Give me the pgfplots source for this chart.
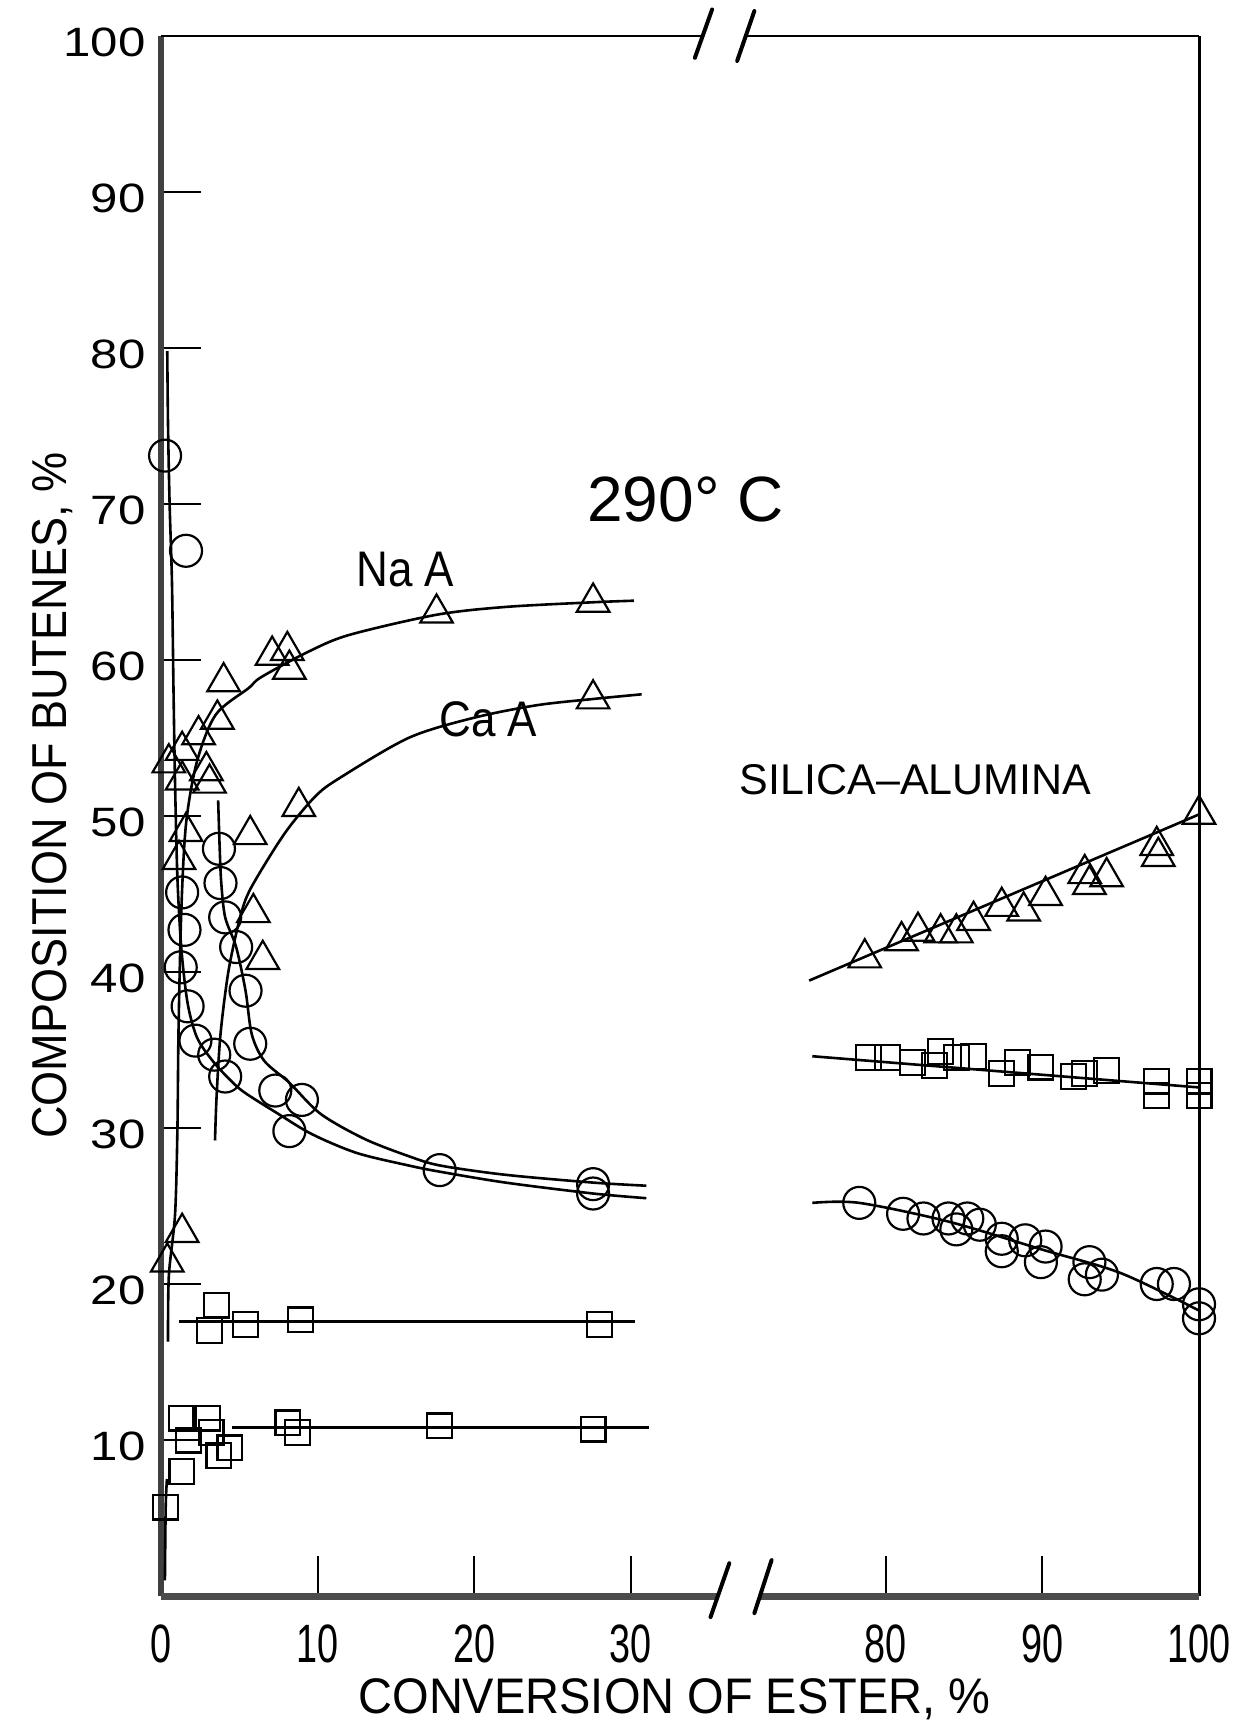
\documentclass[border=0pt]{standalone}
\usepackage{fontspec}
\setmainfont{Liberation Sans}
\usepackage{graphicx}
\usepackage{pgfplots}
\usepackage{pgfplotstable}
\pgfplotsset{compat=1.18}

\newcommand\xl[1]{\scalebox{0.7}[1]{#1}}
\newcommand\yl[1]{\scalebox{1.2}[1]{#1}}

% ---------- left panel (Na A and Ca A), x = conversion % ----------
\pgfplotstableread{
x y
0.26 73.1
1.6 67.0
1.35 45.1
1.5 42.7
1.26 40.3
1.7 37.8
2.2 35.6
3.4 34.7
4.1 33.3
3.7 47.9
3.8 45.7
4.1 43.5
4.8 41.6
5.4 38.8
5.7 35.4
7.3 32.4
9.0 31.8
8.2 29.8
17.8 27.3
27.6 26.4
27.6 25.8
}\lcirc
\pgfplotstableread{
x y
0.4 21.4
1.35 23.3
0.5 53.4
1.35 54.2
2.4 55.2
2.9 52.9
3.1 52.1
1.35 52.3
1.6 49.0
1.15 47.2
3.6 56.2
4.0 58.6
7.1 60.3
8.07 60.6
8.2 59.4
5.7 48.8
5.9 43.8
6.5 40.8
8.8 50.6
17.6 63.0
27.6 63.7
27.6 57.5
}\ltri
\pgfplotstableread{
x y
0.3 5.7
1.34 8.0
1.28 11.4
1.74 10.0
3.0 11.4
3.2 10.5
3.7 9.0
4.4 9.5
8.1 11.1
8.7 10.5
17.8 10.9
27.6 10.7
3.55 18.65
3.1 17.0
5.4 17.4
8.9 17.7
28.0 17.4
}\lsq
% ---------- right panel (silica-alumina), x = conversion % ----------
\pgfplotstableread{
x y
78.65 40.9
81.0 42.0
82.05 42.6
83.5 42.5
84.5 42.5
85.6 43.3
87.4 44.2
88.8 43.9
90.2 44.9
92.7 46.3
93.0 45.6
94.1 46.1
97.3 48.1
97.4 47.4
100.0 50.1
}\rtri
\pgfplotstableread{
x y
78.9 34.5
80.1 34.5
81.7 34.2
83.1 34.0
83.5 34.9
84.5 34.5
85.6 34.6
87.4 33.5
88.4 34.2
89.9 33.9
92.0 33.3
92.7 33.5
94.1 33.7
97.3 33.0
97.3 32.1
100.0 33.0
100.0 32.1
}\rsq
\pgfplotstableread{
x y
78.3 25.2
81.1 24.5
82.4 24.2
84.0 24.2
84.5 23.5
85.2 24.2
86.0 23.8
87.4 22.9
87.4 22.1
88.9 22.8
89.9 21.4
90.2 22.4
93.0 21.4
92.7 20.3
93.8 20.6
97.3 20.0
98.4 20.0
100.0 18.7
100.0 17.8
}\rcirc

\pgfplotsset{
  curve/.style={black, line width=1.3pt, smooth, no markers},
  tri/.style={black, only marks, mark=triangle, mark size=9.4pt, mark options={line width=1.1pt, fill=white, solid}},
  circ/.style={black, only marks, mark=o, mark size=8pt, mark options={line width=1.1pt, fill=white, solid}},
  sq/.style={black, only marks, mark=square, mark size=6.2pt, mark options={line width=1.1pt, fill=white, solid}},
}

\begin{document}
\begin{tikzpicture}
\begin{axis}[
  at={(0pt,0pt)}, anchor=south west,
  scale only axis, width=519pt, height=780pt,
  xmin=0, xmax=66.3, ymin=0, ymax=100,
  clip=false,
  axis line style={draw=none},
  tick align=inside, major tick length=20pt,
  xtick pos=left, ytick pos=left,
  tick style={line width=1pt, black},
  xtick={0,10,20,30,46.3,56.3,66.3},
  xticklabels={\xl{0},\xl{10},\xl{20},\xl{30},\xl{80},\xl{90},\xl{100}},
  ytick={10,20,30,40,50,60,70,80,90,100},
  yticklabels={\yl{10},\yl{20},\yl{30},\yl{40},\yl{50},\yl{60},\yl{70},\yl{80},\yl{90},\yl{100}},
  xticklabel style={font=\fontsize{27}{32}\selectfont, anchor=north, inner sep=0pt, yshift=-14pt},
  yticklabel style={font=\fontsize{20.5}{24}\selectfont, anchor=east, inner sep=0pt, xshift=-7.5pt, yshift=-3pt},
]
% frame with break
\draw[line width=3.2pt, black!75] (axis cs:0,0) -- (axis cs:0,100);
\draw[line width=1pt] (axis cs:0,100) -- (axis cs:34.6,100);
\draw[line width=1pt] (axis cs:37.4,100) -- (axis cs:66.3,100);
\draw[line width=1.5pt] (axis cs:66.3,0) -- (axis cs:66.3,100);
\draw[line width=3.5pt, black!70] (axis cs:0,0) -- (axis cs:35.6,0);
\draw[line width=3.5pt, black!70] (axis cs:38.3,0) -- (axis cs:66.3,0);
\draw[line width=2pt, line cap=round] (axis cs:34.1,98.6) -- (axis cs:35.2,101.7);
\draw[line width=2pt, line cap=round] (axis cs:36.8,98.4) -- (axis cs:37.9,101.6);
\draw[line width=2pt, line cap=round] (axis cs:35.1,-1.35) -- (axis cs:36.3,2.1);
\draw[line width=2pt, line cap=round] (axis cs:37.9,-1.1) -- (axis cs:39.0,2.3);

% fitted curves, left panel
\addplot[curve] coordinates {(0.45,16.3) (0.5,20.5) (0.9,24.5) (1.05,30) (1.12,36.3) (1.3,44) (1.6,49.5) (2.3,53.5) (3.5,56.5) (5.6,58.2) (6.4,58.9) (9.35,60.5) (12,61.6) (17.6,62.9) (22,63.4) (27.6,63.7) (30.2,63.8)};
\addplot[curve] coordinates {(3.45,29.2) (3.55,32.0) (3.8,36) (4.3,40) (5.0,43.3) (5.6,45.1) (7,47.5) (8.2,49.3) (9.8,51.2) (11.2,52.3) (15.8,55.0) (20,56.3) (24,57.1) (27.6,57.5) (30.7,57.8)};
\addplot[curve] coordinates {(0.4,79.8) (0.45,75) (0.55,70) (0.7,65) (0.8,58) (0.9,52) (1.05,46) (1.3,41.5) (1.7,38) (2.3,35.8) (3.3,34.3) (4.3,33.2) (5.3,32.3) (7.5,30.9) (9.65,29.6) (12.5,28.4) (15.8,27.6) (17.8,27.2) (22,26.5) (27.6,25.8) (31,25.5)};
\addplot[curve] coordinates {(3.65,51) (3.75,47.9) (3.85,45.7) (4.1,43.5) (4.8,41.6) (5.4,38.8) (5.8,36) (6.6,34.3) (8.2,32.9) (10.2,30.9) (13,29.3) (15.8,28.2) (17.8,27.6) (22,27.0) (27.6,26.5) (31,26.3)};
\addplot[curve] coordinates {(1.15,17.6) (30.3,17.6)};
\addplot[curve] coordinates {(4.55,10.8) (31.2,10.8)};
\addplot[curve] coordinates {(0.25,1.0) (0.3,5.7) (0.38,7.5)};
% fitted curves, right panel
\addplot[curve] table[x expr=\thisrow{x}-33.7, y=y] {
x y
75.1 39.45
100 50.1
};
\addplot[curve] table[x expr=\thisrow{x}-33.7, y=y] {
x y
75.3 34.6
100 32.6
};
\addplot[curve] table[x expr=\thisrow{x}-33.7, y=y] {
x y
75.3 25.2
78.3 25.2
84 24.0
90 22.2
95 20.7
100 18.3
};

% data points
\addplot[sq] table[x=x, y=y] {\lsq};
\addplot[circ] table[x=x, y=y] {\lcirc};
\addplot[tri] table[x=x, y=y] {\ltri};
\addplot[tri] table[x expr=\thisrow{x}-33.7, y=y] {\rtri};
\addplot[sq] table[x expr=\thisrow{x}-33.7, y=y] {\rsq};
\addplot[circ] table[x expr=\thisrow{x}-33.7, y=y] {\rcirc};

% annotations
\node[font=\fontsize{32}{38}\selectfont] at (axis cs:33.5,70.3) {290° C};
\node[font=\fontsize{25}{30}\selectfont] at (axis cs:15.6,65.8) {\scalebox{0.88}[1]{Na A}};
\node[font=\fontsize{25}{30}\selectfont] at (axis cs:20.9,56.2) {\scalebox{0.88}[1]{Ca A}};
\node[font=\fontsize{21.5}{26}\selectfont] at (axis cs:48.2,52.3) {SILICA–ALUMINA};
\node[font=\fontsize{25}{30}\selectfont] at (axis cs:32.8,-6.6) {\scalebox{0.94}[1]{CONVERSION OF ESTER, \%}};
\node[rotate=90, font=\fontsize{24.5}{29}\selectfont] at (axis cs:-6.95,51.3) {\scalebox{0.92}[1]{COMPOSITION OF BUTENES, \%}};
\end{axis}
\pgfresetboundingbox
\path (-80.5pt,-63pt) rectangle (540pt,798pt);
\end{tikzpicture}
\end{document}
